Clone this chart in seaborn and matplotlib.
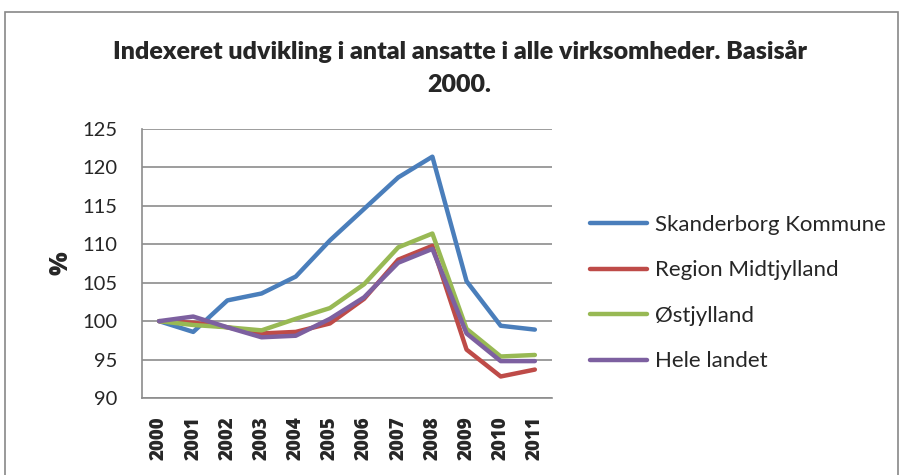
import matplotlib
matplotlib.use("Agg")
import matplotlib.pyplot as plt
import pandas as pd
import seaborn as sns
from matplotlib.patches import Rectangle

sns.set_theme(style="white")
plt.rcParams["font.family"] = ["Lato", "DejaVu Sans"]

years = list(range(2000, 2012))
skanderborg = [100, 98.6, 102.7, 103.6, 105.8, 110.5, 114.6, 118.7, 121.4, 105.2, 99.4, 98.9]
region_midt = [100, 99.8, 99.2, 98.4, 98.6, 99.7, 102.9, 108.0, 109.8, 96.3, 92.8, 93.7]
ostjylland = [100, 99.5, 99.2, 98.8, 100.3, 101.7, 104.8, 109.6, 111.4, 99.0, 95.4, 95.6]
hele_landet = [100, 100.6, 99.2, 97.9, 98.1, 100.3, 103.1, 107.6, 109.4, 98.4, 94.8, 94.8]

series_names = ["Skanderborg Kommune", "Region Midtjylland", "Østjylland", "Hele landet"]
colors = ["#4A7EBB", "#BE4B48", "#98B954", "#7D60A0"]

df = pd.concat(
    [
        pd.DataFrame({"year": years, "value": vals, "series": name})
        for name, vals in zip(series_names, [skanderborg, region_midt, ostjylland, hele_landet])
    ]
)

fig = plt.figure(figsize=(9.01, 4.75), dpi=100)
ax = fig.add_axes([0.1576, 0.1621, 0.455, 0.5663])

sns.lineplot(
    data=df, x="year", y="value", hue="series", hue_order=series_names,
    palette=colors, linewidth=3.2, ax=ax, sort=False,
)

ax.set_xlim(1999.5, 2011.5)
ax.set_ylim(90, 125)
ax.set_yticks(range(90, 126, 5))
ax.set_xticks(years)
ax.set_xticklabels([str(y) for y in years], rotation=90, fontweight="heavy", fontsize=13.5,
                   family=["Open Sans", "DejaVu Sans"])
ax.tick_params(axis="y", labelsize=14.5, pad=18, length=0)
ax.tick_params(axis="x", pad=13, length=0)
ax.yaxis.grid(True, color="#8c8c8c", linewidth=1.2)
ax.set_axisbelow(True)
for side in ["top", "right"]:
    ax.spines[side].set_visible(False)
for side in ["left", "bottom"]:
    ax.spines[side].set_color("#8c8c8c")
    ax.spines[side].set_linewidth(1.2)
ax.set_xlabel("")
ax.set_ylabel("%", fontsize=18, fontweight="heavy", labelpad=6,
              family=["Open Sans", "DejaVu Sans"])

leg = ax.legend(
    loc="center left", bbox_to_anchor=(1.043, 0.39), frameon=False, fontsize=16,
    handlelength=2.6, handletextpad=0.35, labelspacing=1.15,
)
for line in leg.get_lines():
    line.set_linewidth(3.2)

fig.text(
    0.51, 0.857, "Indexeret udvikling i antal ansatte i alle virksomheder. Basisår\n2000.",
    ha="center", va="center", fontsize=18, fontweight="heavy", linespacing=1.62,
)

fig.patches.append(
    Rectangle((5 / 901, -0.05), 893 / 901, 1.05 - 12 / 475, transform=fig.transFigure,
              fill=False, edgecolor="#888888", linewidth=1.2)
)

fig.savefig("out.png", dpi=100)
